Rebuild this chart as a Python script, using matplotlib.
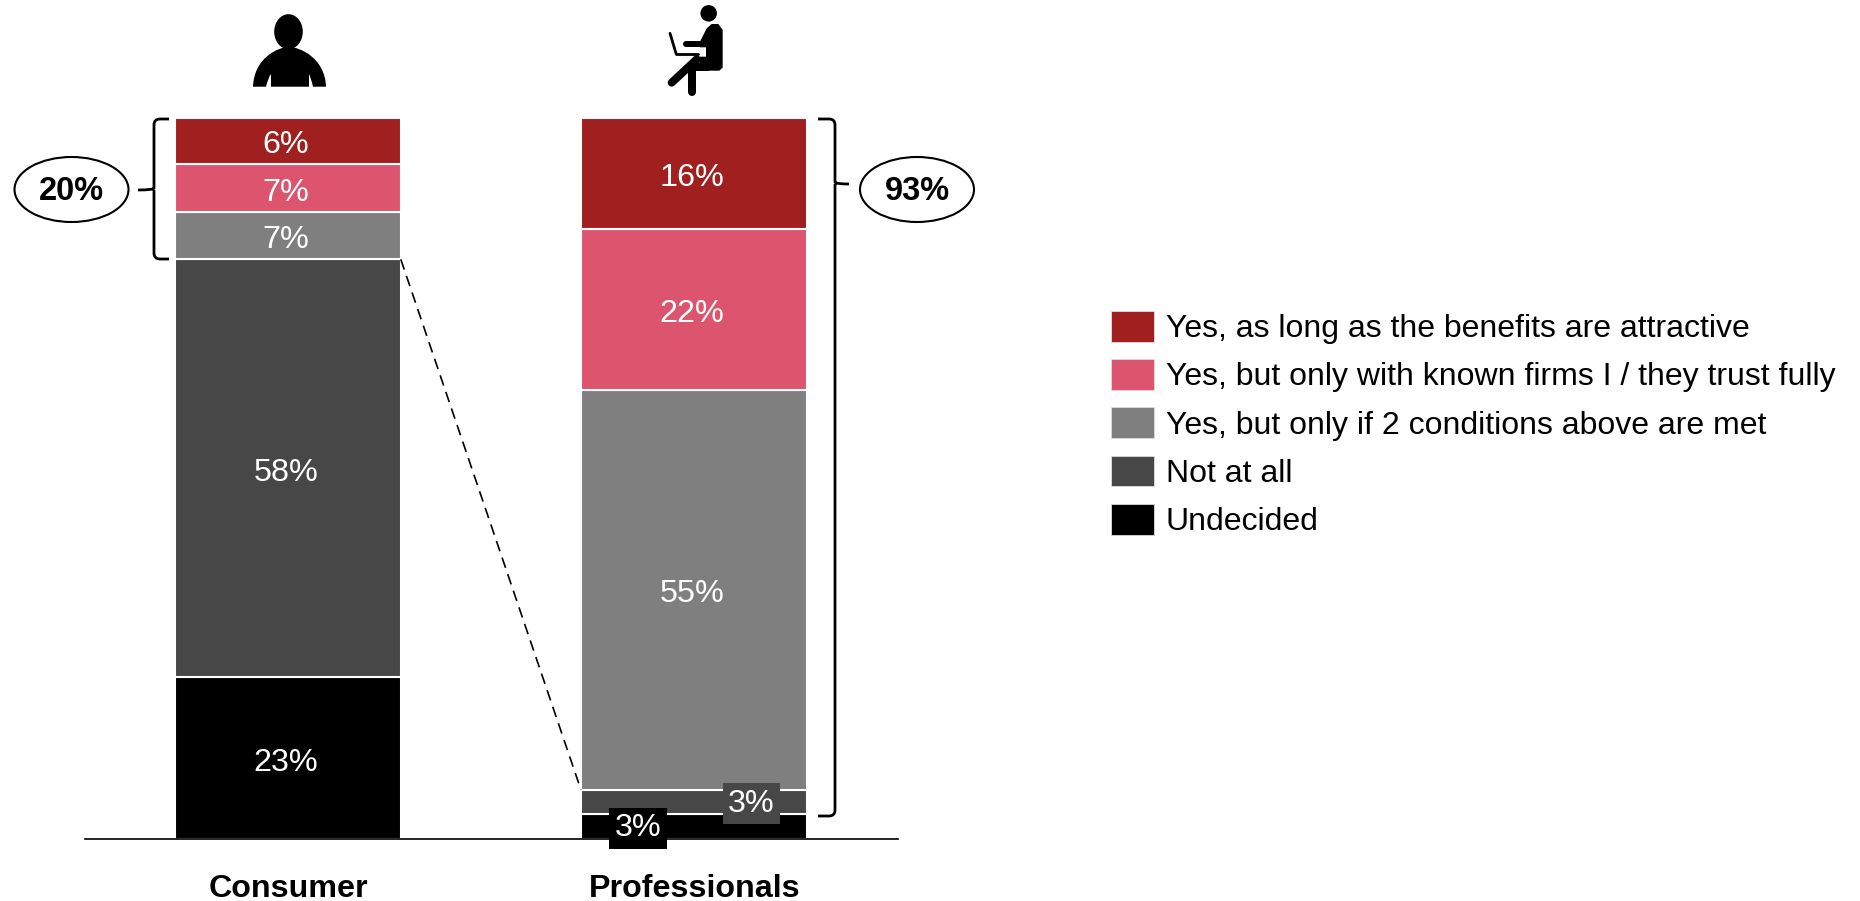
import matplotlib
matplotlib.use('Agg')

import matplotlib.pyplot as plt
from matplotlib.patches import Ellipse, Patch, PathPatch
from matplotlib.path import Path

plt.rcParams['font.family'] = ['Liberation Sans', 'DejaVu Sans']

# data, bottom of the stack first
groups = ['Consumer', 'Professionals']
series = ['Undecided', 'Not at all', 'Yes, but only if 2 conditions above are met',
          'Yes, but only with known firms I / they trust fully',
          'Yes, as long as the benefits are attractive']
consumer_vals = [22.4, 58.0, 6.5, 6.7, 6.4]
professional_vals = [3.4, 3.4, 55.5, 22.3, 15.4]
consumer_labels = ['23%', '58%', '7%', '7%', '6%']
professional_labels = ['3%', '3%', '55%', '22%', '16%']
bracket_labels = ['20%', '93%']

colors = ['#000000', '#474747', '#7F7F7F', '#DC546D', '#A01F1F']

W, H = 1860, 901
fig = plt.figure(figsize=(W / 100, H / 100), dpi=100, facecolor='white')

# main axes: the plot area lines up with baseline y=839 and bar top y=118
ax = fig.add_axes([85 / W, (H - 839) / H, (898 - 85) / W, (839 - 118) / H])
ax.set_xlim(-0.5, 1.503)
ax.set_ylim(0, 100)
bar_w = 0.556

for i, (vals, labels) in enumerate([(consumer_vals, consumer_labels),
                                    (professional_vals, professional_labels)]):
    bottom = 0
    for j, v in enumerate(vals):
        ax.bar(i, v, bar_w, bottom=bottom, color=colors[j], edgecolor='white', linewidth=1.5)
        y = bottom + v / 2
        if i == 1 and j < 2:
            # the two thin segments get boxed labels shifted off centre
            dx = -0.138 if j == 0 else 0.142
            ax.text(i + dx, y - 0.2, labels[j], color='white', fontsize=23.3,
                    ha='center', va='center', zorder=5,
                    bbox=dict(boxstyle='square,pad=0.17', fc=colors[j], ec='none'))
        else:
            ax.text(i - 0.005, y - 0.6, labels[j], color='white', fontsize=23.3, ha='center', va='center')
        bottom += v

# dashed link between the top of "Not at all" in each bar
ax.plot([bar_w / 2, 1 - bar_w / 2],
        [sum(consumer_vals[:2]), sum(professional_vals[:2])],
        color='black', linewidth=1.2, linestyle=(0, (6.5, 4)))

for s in ['top', 'left', 'right']:
    ax.spines[s].set_visible(False)
ax.spines['bottom'].set_linewidth(1.2)
ax.set_yticks([])
ax.set_xticks([0, 1.002])
ax.set_xticklabels(groups, fontsize=23.2, fontweight='bold')
ax.tick_params(axis='x', length=0, pad=25)

# overlay in pixel coordinates for brackets, ovals and icons
ov = fig.add_axes([0, 0, 1, 1], facecolor='none')
ov.set_xlim(0, W)
ov.set_ylim(H, 0)
ov.axis('off')


def brace(x_end, x_spine, x_tip, y_top, y_mid, y_bot):
    r = 6 if x_end > x_spine else -6
    verts = [(x_end, y_top), (x_spine + r, y_top), (x_spine, y_top), (x_spine, y_top + 6),
             (x_spine, y_mid - 2), (x_spine, y_mid), (x_tip, y_mid),
             (x_spine, y_mid), (x_spine, y_mid + 2),
             (x_spine, y_bot - 6), (x_spine, y_bot), (x_spine + r, y_bot), (x_end, y_bot)]
    codes = [Path.MOVETO, Path.LINETO, Path.CURVE3, Path.CURVE3,
             Path.LINETO, Path.CURVE3, Path.CURVE3,
             Path.MOVETO, Path.LINETO,
             Path.LINETO, Path.CURVE3, Path.CURVE3, Path.LINETO]
    ov.add_patch(PathPatch(Path(verts, codes), fc='none', ec='black', lw=2))


brace(169, 154, 138, 119, 190, 259)
brace(818, 835, 849, 119, 184, 816)

for cx, txt in zip([71.5, 917], bracket_labels):
    ov.add_patch(Ellipse((cx, 189.5), 114, 65, fc='white', ec='black', lw=1.5))
    ov.text(cx, 192, txt, fontsize=23.5, fontweight='bold', ha='center', va='center')

# consumer icon
ov.add_patch(Ellipse((288.5, 31.7), 28.6, 35, fc='black', ec='none'))
body = [(253, 86.7), (254, 58), (278, 47), (289, 47), (300, 47), (325, 58), (326, 86.7),
        (313, 86.7), (311, 78), (309, 74), (309, 86.7), (271, 86.7), (271, 74),
        (268, 78), (266, 86.7), (253, 86.7)]
body_codes = [Path.MOVETO, Path.CURVE4, Path.CURVE4, Path.CURVE4, Path.CURVE4, Path.CURVE4, Path.CURVE4,
              Path.LINETO, Path.CURVE3, Path.CURVE3, Path.LINETO, Path.LINETO, Path.LINETO,
              Path.CURVE3, Path.CURVE3, Path.CLOSEPOLY]
ov.add_patch(PathPatch(Path(body, body_codes), fc='black', ec='none'))


# professional icon
def zx(x):
    return 560 + x / 3


def zy(y):
    return y / 3


ov.add_patch(Ellipse((zx(446), zy(40)), 16.5, 16.5, fc='black', ec='none'))
torso = [(440, 85), (455, 72), (475, 72), (488, 90), (488, 203), (478, 212), (418, 212),
         (418, 170), (438, 170), (438, 142), (420, 142), (420, 125), (440, 85)]
ov.fill([zx(p[0]) for p in torso], [zy(p[1]) for p in torso], color='black', lw=0)
# width in pixels
strokes = [((378, 133), (425, 133), 6), ((330, 100), (348, 160), 2.8), ((348, 162), (415, 162), 2.8),
           ((410, 178), (335, 248), 8), ((395, 195), (395, 275), 8), ((395, 200), (440, 200), 8)]
for a, b, w in strokes:
    ov.plot([zx(a[0]), zx(b[0])], [zy(a[1]), zy(b[1])], color='black', lw=w * 0.72,
            solid_capstyle='round')

# legend, top entry first
handles = [Patch(fc=c, ec='#dddddd', lw=0.6, label=s) for c, s in zip(colors[::-1], series[::-1])]
fig.legend(handles=handles, loc='upper left', bbox_to_anchor=(1111 / W, 1 - 311 / H), frameon=False,
           fontsize=23, borderpad=0, borderaxespad=0, handlelength=1.35, handleheight=1.1,
           handletextpad=0.37, labelspacing=0.47)

fig.savefig('out.png', dpi=100, facecolor='white')
plt.close(fig)
